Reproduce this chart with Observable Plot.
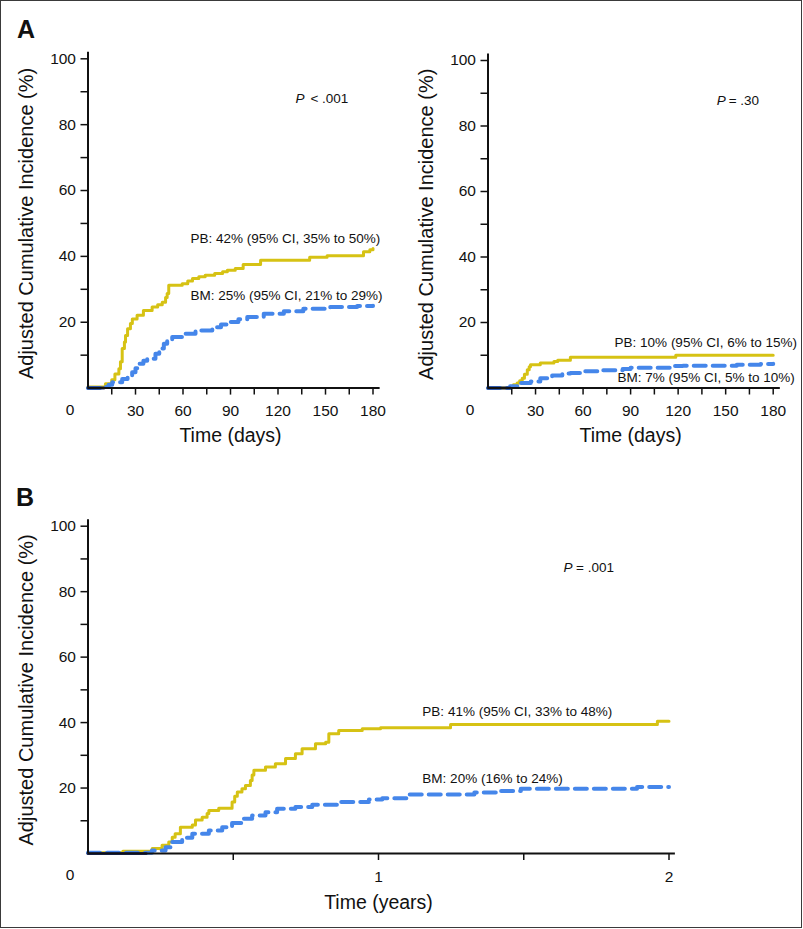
<!DOCTYPE html>
<html><head><meta charset="utf-8">
<script src="https://cdn.jsdelivr.net/npm/d3@7"></script>
<script src="https://cdn.jsdelivr.net/npm/@observablehq/plot@0.6"></script>
<style>
html,body{margin:0;padding:0;background:#fff;}
#fig{position:relative;width:803px;height:929px;overflow:hidden;font-family:'Liberation Sans',Arial,Helvetica,sans-serif;}
.frame{position:absolute;left:0;top:0;width:802px;height:928px;border:1.5px solid #3a3a3a;box-sizing:border-box;pointer-events:none;}
.plabel{position:absolute;font-weight:bold;font-size:25px;line-height:25px;color:#111;}
#fig svg{position:absolute;}
</style></head><body><div id="fig"><div class="frame"></div></div>
<script>
// ---------- data ----------
// Panel A (left): days vs adjusted cumulative incidence (%)
const a1PBdays = [0,11,15,17,19.5,20.5,21.6,23,23.7,25,26.8,28,31,35,40.5,44,46.9,49,50,51,59.5,63,66,70,74,80,85,88,93,98,109,140,151,174,178,180];
const a1PBinc  = [0.3,1.3,2.5,4.3,5.9,8,12,14,16,18,19.6,21,22.1,23.6,24.6,25.3,26.1,27.5,28.7,31.2,31.7,32.5,33.3,33.8,34.3,34.8,35.3,35.8,36.3,37.5,38.8,39.7,40.2,41.4,42,42.4];
const a1BMdays = [0,10,13,15.3,21.6,25,27.9,30,32,35,37.4,42.6,45,47.9,50,53.2,59.5,67.9,78.5,84,88.9,95,100.6,111,123.7,136,153,170,180];
const a1BMinc  = [0,0.3,1,1.8,2.8,3.8,4.8,6,7.4,8.3,8.9,10.4,12,13.5,14.5,15.5,16.5,17.5,18.5,19.3,20.1,20.9,21.6,22.6,23.3,24.1,24.6,24.9,25];
// Panel A (right)
const a2PBdays = [0,14,16,18.4,20,21.6,23,24.8,26,26.8,33,41.6,44,52,118.5,180];
const a2PBinc  = [0,0.5,1,1.5,2.2,3,4.2,5.6,6.5,7.1,7.6,8.1,8.5,9.4,10,10];
const a2BMdays = [0,14,19,27,33,40.5,46.9,52,59.5,72,85,90,115,123,157,172,180];
const a2BMinc  = [0,0.5,1.5,2,3,3.8,4.4,4.6,5.1,5.4,5.8,6.2,6.7,6.8,7.1,7.3,7.4];
// Panel B: years
const bPByears = [0,0.12,0.221,0.255,0.278,0.29,0.3,0.318,0.359,0.37,0.393,0.41,0.416,0.45,0.496,0.505,0.514,0.53,0.542,0.559,0.565,0.571,0.611,0.645,0.68,0.714,0.737,0.783,0.818,0.829,0.863,0.944,1.007,1.248,1.96,2.0];
const bPBinc   = [0.2,0.7,1.5,2.5,3.5,5,6,8,8.7,10.2,11.1,12.2,13.1,13.8,15.7,17.5,18.8,19.8,20.8,22.3,24,25.4,26.4,27.4,29,30.5,32,33.5,34,36.6,37.6,38.1,38.4,39.4,40.4,40.4];
const bBMyears = [0,0.22,0.267,0.29,0.324,0.359,0.416,0.462,0.496,0.531,0.565,0.611,0.651,0.714,0.772,0.863,0.967,1.013,1.1,1.33,1.42,1.49,1.89,2.0];
const bBMinc   = [0.2,0.9,1.9,3.5,4.8,6,7,8,9.3,10.6,11.6,12.6,13.7,14.2,14.9,15.7,16.5,16.9,18,18.6,19.1,19.8,20.3,20.3];
// overlapping start (both groups at zero)
const a1Both = [0,10], a2Both = [0,14], bBoth = [0,0.2];

// ticks & labels
const dayTicks = [15,30,45,60,75,90,105,120,135,150,165,180];
const dayLabels = [30,60,90,120,150,180];
const yearTicks = [0.5,1,1.5,2];
const yearLabels = [1,2];
const yTicks = [10,20,30,40,50,60,70,80,90,100];
const yLabels = [20,40,60,80,100];

const yTitle = "Adjusted Cumulative Incidence (%)";
const a1Texts = {p: "< .001", pb: "PB: 42% (95% CI, 35% to 50%)", bm: "BM: 25% (95% CI, 21% to 29%)"};
const a2Texts = {p: "= .30", pb: "PB: 10% (95% CI, 6% to 15%)", bm: "BM: 7% (95% CI, 5% to 10%)"};
const bTexts  = {p: "= .001", pb: "PB: 41% (95% CI, 33% to 48%)", bm: "BM: 20% (16% to 24%)"};

// ---------- styles ----------
const YELLOW = "#d6c214", BLUE = "#4586ea", NAVY = "#1c2e6e", INK = "#111";
const FONT = "'Liberation Sans', Arial, Helvetica, sans-serif";

const rows = (ts, vs) => ts.map((t, i) => ({t, v: vs[i]}));

function panel(o) {
  const marks = [
    Plot.line(rows(o.pbT, o.pbV), {x: "t", y: "v", curve: "step-after", stroke: YELLOW, strokeWidth: 3}),
    Plot.line(rows(o.bmT, o.bmV), {x: "t", y: "v", curve: "step-after", stroke: BLUE, strokeWidth: 4, strokeDasharray: "12,7"}),
    Plot.line(rows(o.both, o.both.map(() => 0)), {x: "t", y: "v", stroke: NAVY, strokeWidth: 3}),
    Plot.ruleY([0], {x1: 0, x2: o.xEnd, stroke: INK, strokeWidth: 2}),
    Plot.ruleX([0], {y1: 0, y2: 102, stroke: INK, strokeWidth: 2}),
    Plot.axisY(yTicks, {tickSize: 7, tickPadding: 5, strokeWidth: 1.5, fontSize: o.tickFont, label: null,
      tickFormat: d => yLabels.includes(d) ? String(d) : ""}),
    Plot.axisX(o.xTicks, {tickSize: 7, tickPadding: 10, strokeWidth: 1.5, fontSize: o.tickFont, label: null,
      tickFormat: d => o.xLabels.includes(d) ? String(d) : ""}),
    Plot.text(["0"], {x: 0, y: 0, text: d => d, dx: -18, dy: 22, fontSize: o.tickFont, fill: INK}),
    Plot.text([yTitle], {frameAnchor: "left", text: d => d, dx: -61, rotate: -90, textAnchor: "middle", lineAnchor: "middle", fontSize: 20, fill: INK}),
    Plot.text([o.xTitle], {frameAnchor: "bottom", text: d => d, dy: o.xTitleDy, textAnchor: "middle", lineAnchor: "middle", fontSize: 19.5, fill: INK}),
    Plot.text(["P"], {x: o.pPos[0], y: o.pPos[1], text: d => d, textAnchor: "start", fontStyle: "italic", fontSize: 13.5, fill: INK}),
    Plot.text([o.texts.p], {x: o.pPos[0], y: o.pPos[1], text: d => d, dx: o.pDx, textAnchor: "start", fontSize: 13.5, fill: INK}),
    Plot.text([o.texts.pb], {x: o.pbPos[0], y: o.pbPos[1], text: d => d, textAnchor: "start", fontSize: 13.5, fill: INK}),
    Plot.text([o.texts.bm], {x: o.bmPos[0], y: o.bmPos[1], text: d => d, textAnchor: "start", fontSize: 13.5, fill: INK})
  ];
  const svg = Plot.plot({
    width: o.width, height: o.height,
    marginLeft: o.ml, marginRight: o.mr, marginTop: o.mt, marginBottom: o.mb,
    x: {domain: o.xDomain},
    y: {domain: [0, 100]},
    style: {fontFamily: FONT, color: INK, background: "transparent", overflow: "visible"},
    marks
  });
  svg.style.left = o.left + "px";
  svg.style.top = o.top + "px";
  return svg;
}

const fig = document.getElementById("fig");
fig.appendChild(panel({
  left: 0, top: 0, width: 400, height: 470, ml: 87.5, mr: 27.5, mt: 58.3, mb: 82.4,
  xDomain: [0, 180], xEnd: 184.5, xTicks: dayTicks, xLabels: dayLabels, tickFont: 15.5,
  pbT: a1PBdays, pbV: a1PBinc, bmT: a1BMdays, bmV: a1BMinc, both: a1Both,
  xTitle: "Time (days)", xTitleDy: 48,
  texts: a1Texts, pPos: [131, 87.9], pDx: 15, pbPos: [64.7, 45.5], bmPos: [64.7, 28.2]
}));
fig.appendChild(panel({
  left: 400, top: 0, width: 403, height: 470, ml: 87.5, mr: 30.3, mt: 60, mb: 82.5,
  xDomain: [0, 180], xEnd: 184.5, xTicks: dayTicks, xLabels: dayLabels, tickFont: 15.5,
  pbT: a2PBdays, pbV: a2PBinc, bmT: a2BMdays, bmV: a2BMinc, both: a2Both,
  xTitle: "Time (days)", xTitleDy: 48,
  texts: a2Texts, pPos: [144.3, 87.8], pDx: 12, pbPos: [79.9, 13.7], bmPos: [81.8, 3.05]
}));
fig.appendChild(panel({
  left: 0, top: 480, width: 803, height: 449, ml: 87.5, mr: 134.5, mt: 45.7, mb: 76,
  xDomain: [0, 2], xEnd: 2.022, xTicks: yearTicks, xLabels: yearLabels, tickFont: 15.5,
  pbT: bPByears, pbV: bPBinc, bmT: bBMyears, bmV: bBMinc, both: bBoth,
  xTitle: "Time (years)", xTitleDy: 49,
  texts: bTexts, pPos: [1.637, 87.2], pDx: 12.5, pbPos: [1.151, 43.4], bmPos: [1.151, 22.9]
}));

for (const [t, l, tp] of [["A", 17, 16.7], ["B", 16, 485]]) {
  const d = document.createElement("div");
  d.className = "plabel"; d.textContent = t;
  d.style.left = l + "px"; d.style.top = tp + "px";
  fig.appendChild(d);
}
</script></body></html>
